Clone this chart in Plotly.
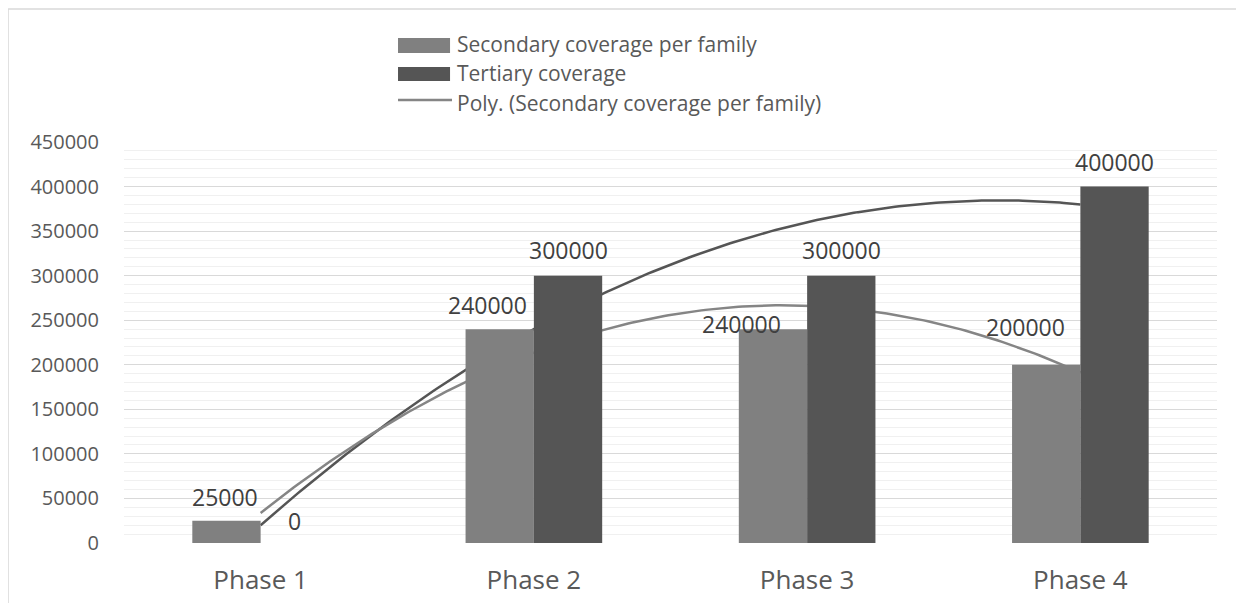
import numpy as np
import plotly.graph_objects as go

categories = ["Phase 1", "Phase 2", "Phase 3", "Phase 4"]
secondary = [25000, 240000, 240000, 200000]
tertiary = [0, 300000, 300000, 400000]
y_ticks = [0, 50000, 100000, 150000, 200000, 250000, 300000, 350000, 400000, 450000]
legend_names = ["Secondary coverage per family", "Tertiary coverage",
                "Poly. (Secondary coverage per family)"]

# label offsets (px) as in the reference
sec_shift = [(-1, 24), (-12, 24), (-31, 5), (-21, 38)]
ter_shift = [(0, 22), (0, 26), (0, 26), (0, 25)]

FONT = "Open Sans"
SEC_COL = "#808080"
TER_COL = "#555555"
x_idx = np.arange(len(categories))

# Excel-style order-2 polynomial trendlines computed from the series
xs = np.linspace(0, len(categories) - 1, 200)
sec_fit = np.polyval(np.polyfit(x_idx + 1, secondary, 2), xs + 1)
ter_fit = np.polyval(np.polyfit(x_idx + 1, tertiary, 2), xs + 1)

fig = go.Figure()

# trendlines (drawn on base subplot -> below bars)
fig.add_trace(go.Scatter(x=xs, y=ter_fit, mode="lines", showlegend=False,
                         line=dict(color=TER_COL, width=2.5), hoverinfo="skip",
                         xaxis="x", yaxis="y"))
fig.add_trace(go.Scatter(x=xs, y=sec_fit, mode="lines", name=legend_names[2],
                         showlegend=False,
                         line=dict(color="#858585", width=2.5),
                         xaxis="x", yaxis="y"))

fig.add_trace(go.Bar(x=x_idx, y=secondary, name=legend_names[0], showlegend=False,
                     marker=dict(color=SEC_COL, line=dict(width=0)),
                     xaxis="x", yaxis="y2", offsetgroup="a"))
fig.add_trace(go.Bar(x=x_idx, y=tertiary, name=legend_names[1], showlegend=False,
                     marker=dict(color=TER_COL, line=dict(width=0)),
                     xaxis="x", yaxis="y2", offsetgroup="b"))

annotations = []
for i in range(len(categories)):
    annotations.append(dict(x=i - 0.125, y=secondary[i], xref="x", yref="y2",
                            text=str(secondary[i]), showarrow=False,
                            xshift=sec_shift[i][0], yshift=sec_shift[i][1],
                            font=dict(family=FONT, size=23, color="#404040")))
    annotations.append(dict(x=i + 0.125, y=tertiary[i], xref="x", yref="y2",
                            text=str(tertiary[i]), showarrow=False,
                            xshift=ter_shift[i][0], yshift=ter_shift[i][1],
                            font=dict(family=FONT, size=23, color="#404040")))

# manual legend (wide swatches like the reference)
leg_text_x = 0.3028
leg_rows_y = [1.2456, 1.1721, 1.0985]
for name, yy in zip(legend_names, leg_rows_y):
    annotations.append(dict(x=leg_text_x, y=yy, xref="paper", yref="paper",
                            text=name, showarrow=False, xanchor="left", yanchor="middle",
                            font=dict(family=FONT, size=21, color="#595959")))

shapes = [
    dict(type="rect", xref="paper", yref="paper", x0=0.2507, x1=0.2983,
         y0=1.2219, y1=1.2594, fillcolor=SEC_COL, line=dict(width=0)),
    dict(type="rect", xref="paper", yref="paper", x0=0.2507, x1=0.2983,
         y0=1.1521, y1=1.1870, fillcolor=TER_COL, line=dict(width=0)),
    dict(type="line", xref="paper", yref="paper", x0=0.2507, x1=0.3001,
         y0=1.1047, y1=1.1047, line=dict(color="#858585", width=2.5)),
    # chart-area border
    dict(type="line", xref="paper", yref="paper", x0=-0.1061, x1=1.03,
         y0=1.3317, y1=1.3317, line=dict(color="#d9d9d9", width=1.5)),
    dict(type="line", xref="paper", yref="paper", x0=-0.1061, x1=-0.1061,
         y0=1.3317, y1=-0.16, line=dict(color="#d9d9d9", width=1.5)),
]

yr = [0, 450000]
fig.update_layout(
    width=1236, height=595,
    margin=dict(l=116, r=27, t=134, b=60),
    paper_bgcolor="white", plot_bgcolor="white",
    barmode="group", bargap=0.5, bargroupgap=0,
    font=dict(family=FONT, color="#595959"),
    showlegend=False,
    xaxis=dict(range=[-0.5, 3.5], tickvals=list(x_idx), ticktext=categories,
               showgrid=False, zeroline=False, showline=False, ticks="",
               ticklabelstandoff=19, automargin=False,
               tickfont=dict(size=26, color="#595959")),
    yaxis=dict(range=yr, tickvals=y_ticks, ticktext=[str(v) for v in y_ticks],
               showgrid=True, gridcolor="#d9d9d9", gridwidth=1,
               minor=dict(dtick=10000, showgrid=True, gridcolor="#f0f0f0", gridwidth=1),
               zeroline=False, showline=False, ticks="", ticklabelstandoff=24,
               automargin=False,
               tickfont=dict(size=20, color="#595959")),
    yaxis2=dict(range=yr, overlaying="y", showgrid=False, zeroline=False,
                showticklabels=False, showline=False, automargin=False),
    annotations=annotations,
    shapes=shapes,
    hovermode=False,
)

fig.write_html("out.html")
